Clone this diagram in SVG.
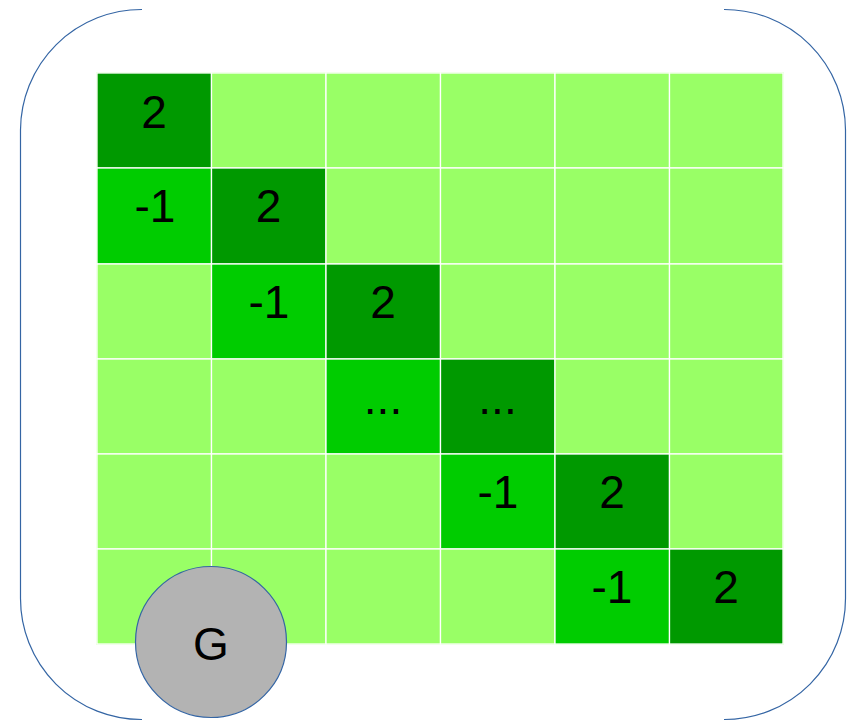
<svg xmlns="http://www.w3.org/2000/svg" width="856" height="721" viewBox="0 0 856 721">
<style>
.c{stroke:#ffffff;stroke-width:1.3}
.l{fill:#99ff66}
.m{fill:#00cc00}
.d{fill:#009900}
.t{font-family:"Liberation Sans",Arial,sans-serif;font-size:46px;fill:#000;text-anchor:middle}
.b{fill:none;stroke:#3465a4;stroke-width:1.2}
</style>
<rect width="856" height="721" fill="#fff"/>
<g id="brackets">
<path class="b" d="M142,9.5 A121,121 0 0 0 20.5,130 L20.5,598 A121,121 0 0 0 142,719.5"/>
<path class="b" d="M724,9.5 A121,121 0 0 1 845.5,130 L845.5,598 A121,121 0 0 1 724,719.5"/>
</g>
<g id="matrix">
<rect x="97" y="73" width="686" height="571" fill="#99ff66" stroke="#ccffb3" stroke-width="1.5"/>
<g id="r1">
<rect class="c d" x="97" y="73" width="114.5" height="95"/>
<rect class="c l" x="211.5" y="73" width="114.5" height="95"/>
<rect class="c l" x="326" y="73" width="114.5" height="95"/>
<rect class="c l" x="440.5" y="73" width="114.5" height="95"/>
<rect class="c l" x="555" y="73" width="114.5" height="95"/>
<rect class="c l" x="669.5" y="73" width="113.5" height="95"/>
</g>
<g id="r2">
<rect class="c m" x="97" y="168" width="114.5" height="96"/>
<rect class="c d" x="211.5" y="168" width="114.5" height="96"/>
<rect class="c l" x="326" y="168" width="114.5" height="96"/>
<rect class="c l" x="440.5" y="168" width="114.5" height="96"/>
<rect class="c l" x="555" y="168" width="114.5" height="96"/>
<rect class="c l" x="669.5" y="168" width="113.5" height="96"/>
</g>
<g id="r3">
<rect class="c l" x="97" y="264" width="114.5" height="95"/>
<rect class="c m" x="211.5" y="264" width="114.5" height="95"/>
<rect class="c d" x="326" y="264" width="114.5" height="95"/>
<rect class="c l" x="440.5" y="264" width="114.5" height="95"/>
<rect class="c l" x="555" y="264" width="114.5" height="95"/>
<rect class="c l" x="669.5" y="264" width="113.5" height="95"/>
</g>
<g id="r4">
<rect class="c l" x="97" y="359" width="114.5" height="95"/>
<rect class="c l" x="211.5" y="359" width="114.5" height="95"/>
<rect class="c m" x="326" y="359" width="114.5" height="95"/>
<rect class="c d" x="440.5" y="359" width="114.5" height="95"/>
<rect class="c l" x="555" y="359" width="114.5" height="95"/>
<rect class="c l" x="669.5" y="359" width="113.5" height="95"/>
</g>
<g id="r5">
<rect class="c l" x="97" y="454" width="114.5" height="95"/>
<rect class="c l" x="211.5" y="454" width="114.5" height="95"/>
<rect class="c l" x="326" y="454" width="114.5" height="95"/>
<rect class="c m" x="440.5" y="454" width="114.5" height="95"/>
<rect class="c d" x="555" y="454" width="114.5" height="95"/>
<rect class="c l" x="669.5" y="454" width="113.5" height="95"/>
</g>
<g id="r6">
<rect class="c l" x="97" y="549" width="114.5" height="95"/>
<rect class="c l" x="211.5" y="549" width="114.5" height="95"/>
<rect class="c l" x="326" y="549" width="114.5" height="95"/>
<rect class="c l" x="440.5" y="549" width="114.5" height="95"/>
<rect class="c m" x="555" y="549" width="114.5" height="95"/>
<rect class="c d" x="669.5" y="549" width="113.5" height="95"/>
</g>
<g id="labels">
<text class="t" x="154" y="128">2</text>
<text class="t" x="155" y="222">-1</text>
<text class="t" x="268.5" y="222">2</text>
<text class="t" x="269" y="318">-1</text>
<text class="t" x="383" y="318">2</text>
<text class="t" x="383" y="414">...</text>
<text class="t" x="497.5" y="414">...</text>
<text class="t" x="498" y="508">-1</text>
<text class="t" x="612" y="508">2</text>
<text class="t" x="612" y="603">-1</text>
<text class="t" x="726" y="603">2</text>
</g>
</g>
<g id="G">
<circle cx="211" cy="642" r="75.5" fill="#b3b3b3" stroke="#3465a4" stroke-width="1.2"/>
<text class="t" x="211" y="660">G</text>
</g>
</svg>
